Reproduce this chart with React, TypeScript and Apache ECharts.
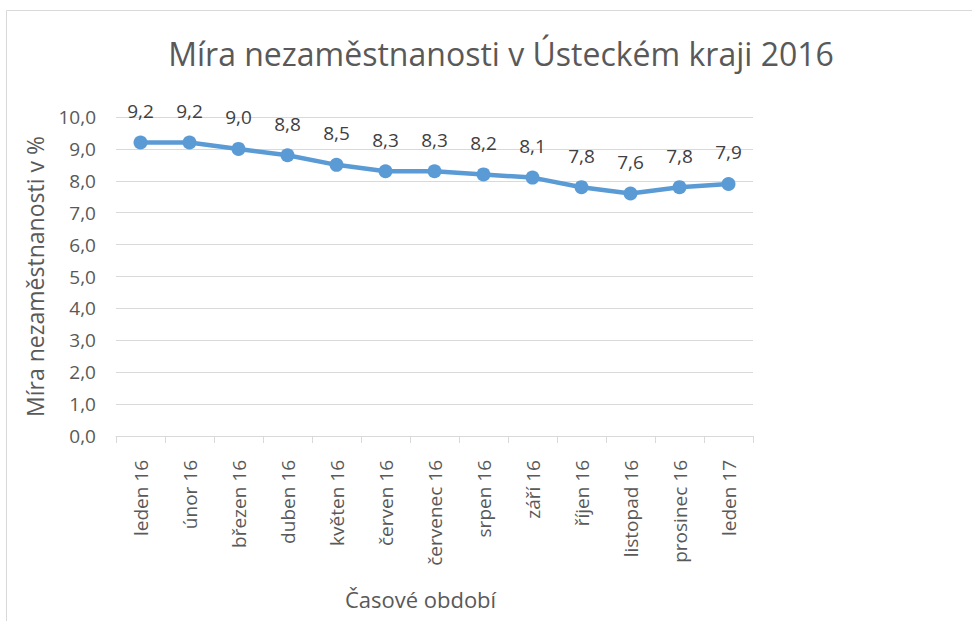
import React, { useEffect, useRef } from "react";
import * as echarts from "echarts";

const categories = [
  "leden 16", "únor 16", "březen 16", "duben 16", "květen 16", "červen 16",
  "červenec 16", "srpen 16", "září 16", "říjen 16", "listopad 16", "prosinec 16", "leden 17",
];
const values = [9.2, 9.2, 9.0, 8.8, 8.5, 8.3, 8.3, 8.2, 8.1, 7.8, 7.6, 7.8, 7.9];
const titleText = "Míra nezaměstnanosti v Ústeckém kraji 2016";
const yName = "Míra nezaměstnanosti v %";
const xName = "Časové období";

const fmt = (v: number) => v.toFixed(1).replace(".", ",");
const FONT = "'Open Sans', 'DejaVu Sans', sans-serif";

export default function App() {
  const ref = useRef<HTMLDivElement>(null);
  useEffect(() => {
    if (!ref.current) return;
    const chart = echarts.init(ref.current, undefined, { renderer: "svg" });
    chart.setOption({
      animation: false,
      backgroundColor: "#ffffff",
      title: {
        text: titleText,
        left: 496,
        top: 32,
        textAlign: "center",
        textStyle: { fontFamily: FONT, fontSize: 32, fontWeight: "normal", color: "#595959" },
      },
      graphic: [
        {
          type: "rect",
          shape: { x: 6.5, y: 10.5, width: 1000, height: 700 },
          style: { fill: "none", stroke: "#d9d9d9", lineWidth: 1 },
          silent: true,
          z: -1,
        },
      ],
      grid: { left: 116, right: 972 - 753, top: 117, bottom: 621 - 436, containLabel: false },
      xAxis: {
        type: "category",
        data: categories,
        boundaryGap: true,
        axisLine: { show: true, lineStyle: { color: "#d9d9d9", width: 1 } },
        axisTick: { show: true, length: 7, lineStyle: { color: "#d9d9d9" }, alignWithLabel: false },
        axisLabel: {
          interval: 0,
          rotate: 90,
          margin: 24,
          fontFamily: FONT,
          fontSize: 19,
          color: "#595959",
        },
        name: xName,
        nameLocation: "middle",
        nameGap: 152,
        nameTextStyle: { fontFamily: FONT, fontSize: 22, color: "#595959", padding: [0, 28, 0, 0] },
      },
      yAxis: {
        type: "value",
        min: 0,
        max: 10,
        interval: 1,
        axisLine: { show: false },
        axisTick: { show: false },
        splitLine: { show: true, lineStyle: { color: "#d9d9d9", width: 1 } },
        axisLabel: {
          formatter: (v: number) => fmt(v),
          margin: 20,
          fontFamily: FONT,
          fontSize: 19,
          color: "#595959",
        },
        name: yName,
        nameLocation: "middle",
        nameGap: 70,
        nameTextStyle: { fontFamily: FONT, fontSize: 23, color: "#595959" },
      },
      series: [
        {
          type: "line",
          data: values,
          symbol: "circle",
          symbolSize: 14,
          itemStyle: { color: "#5b9bd5" },
          lineStyle: { color: "#5b9bd5", width: 4.5 },
          label: {
            show: true,
            position: "top",
            distance: 15,
            formatter: (p: any) => fmt(p.value),
            fontFamily: FONT,
            fontSize: 19,
            color: "#404040",
          },
        },
      ],
    });
    return () => chart.dispose();
  }, []);
  return (
    <div
      ref={ref}
      style={{ position: "fixed", left: 0, top: 0, width: 972, height: 621 }}
    />
  );
}
